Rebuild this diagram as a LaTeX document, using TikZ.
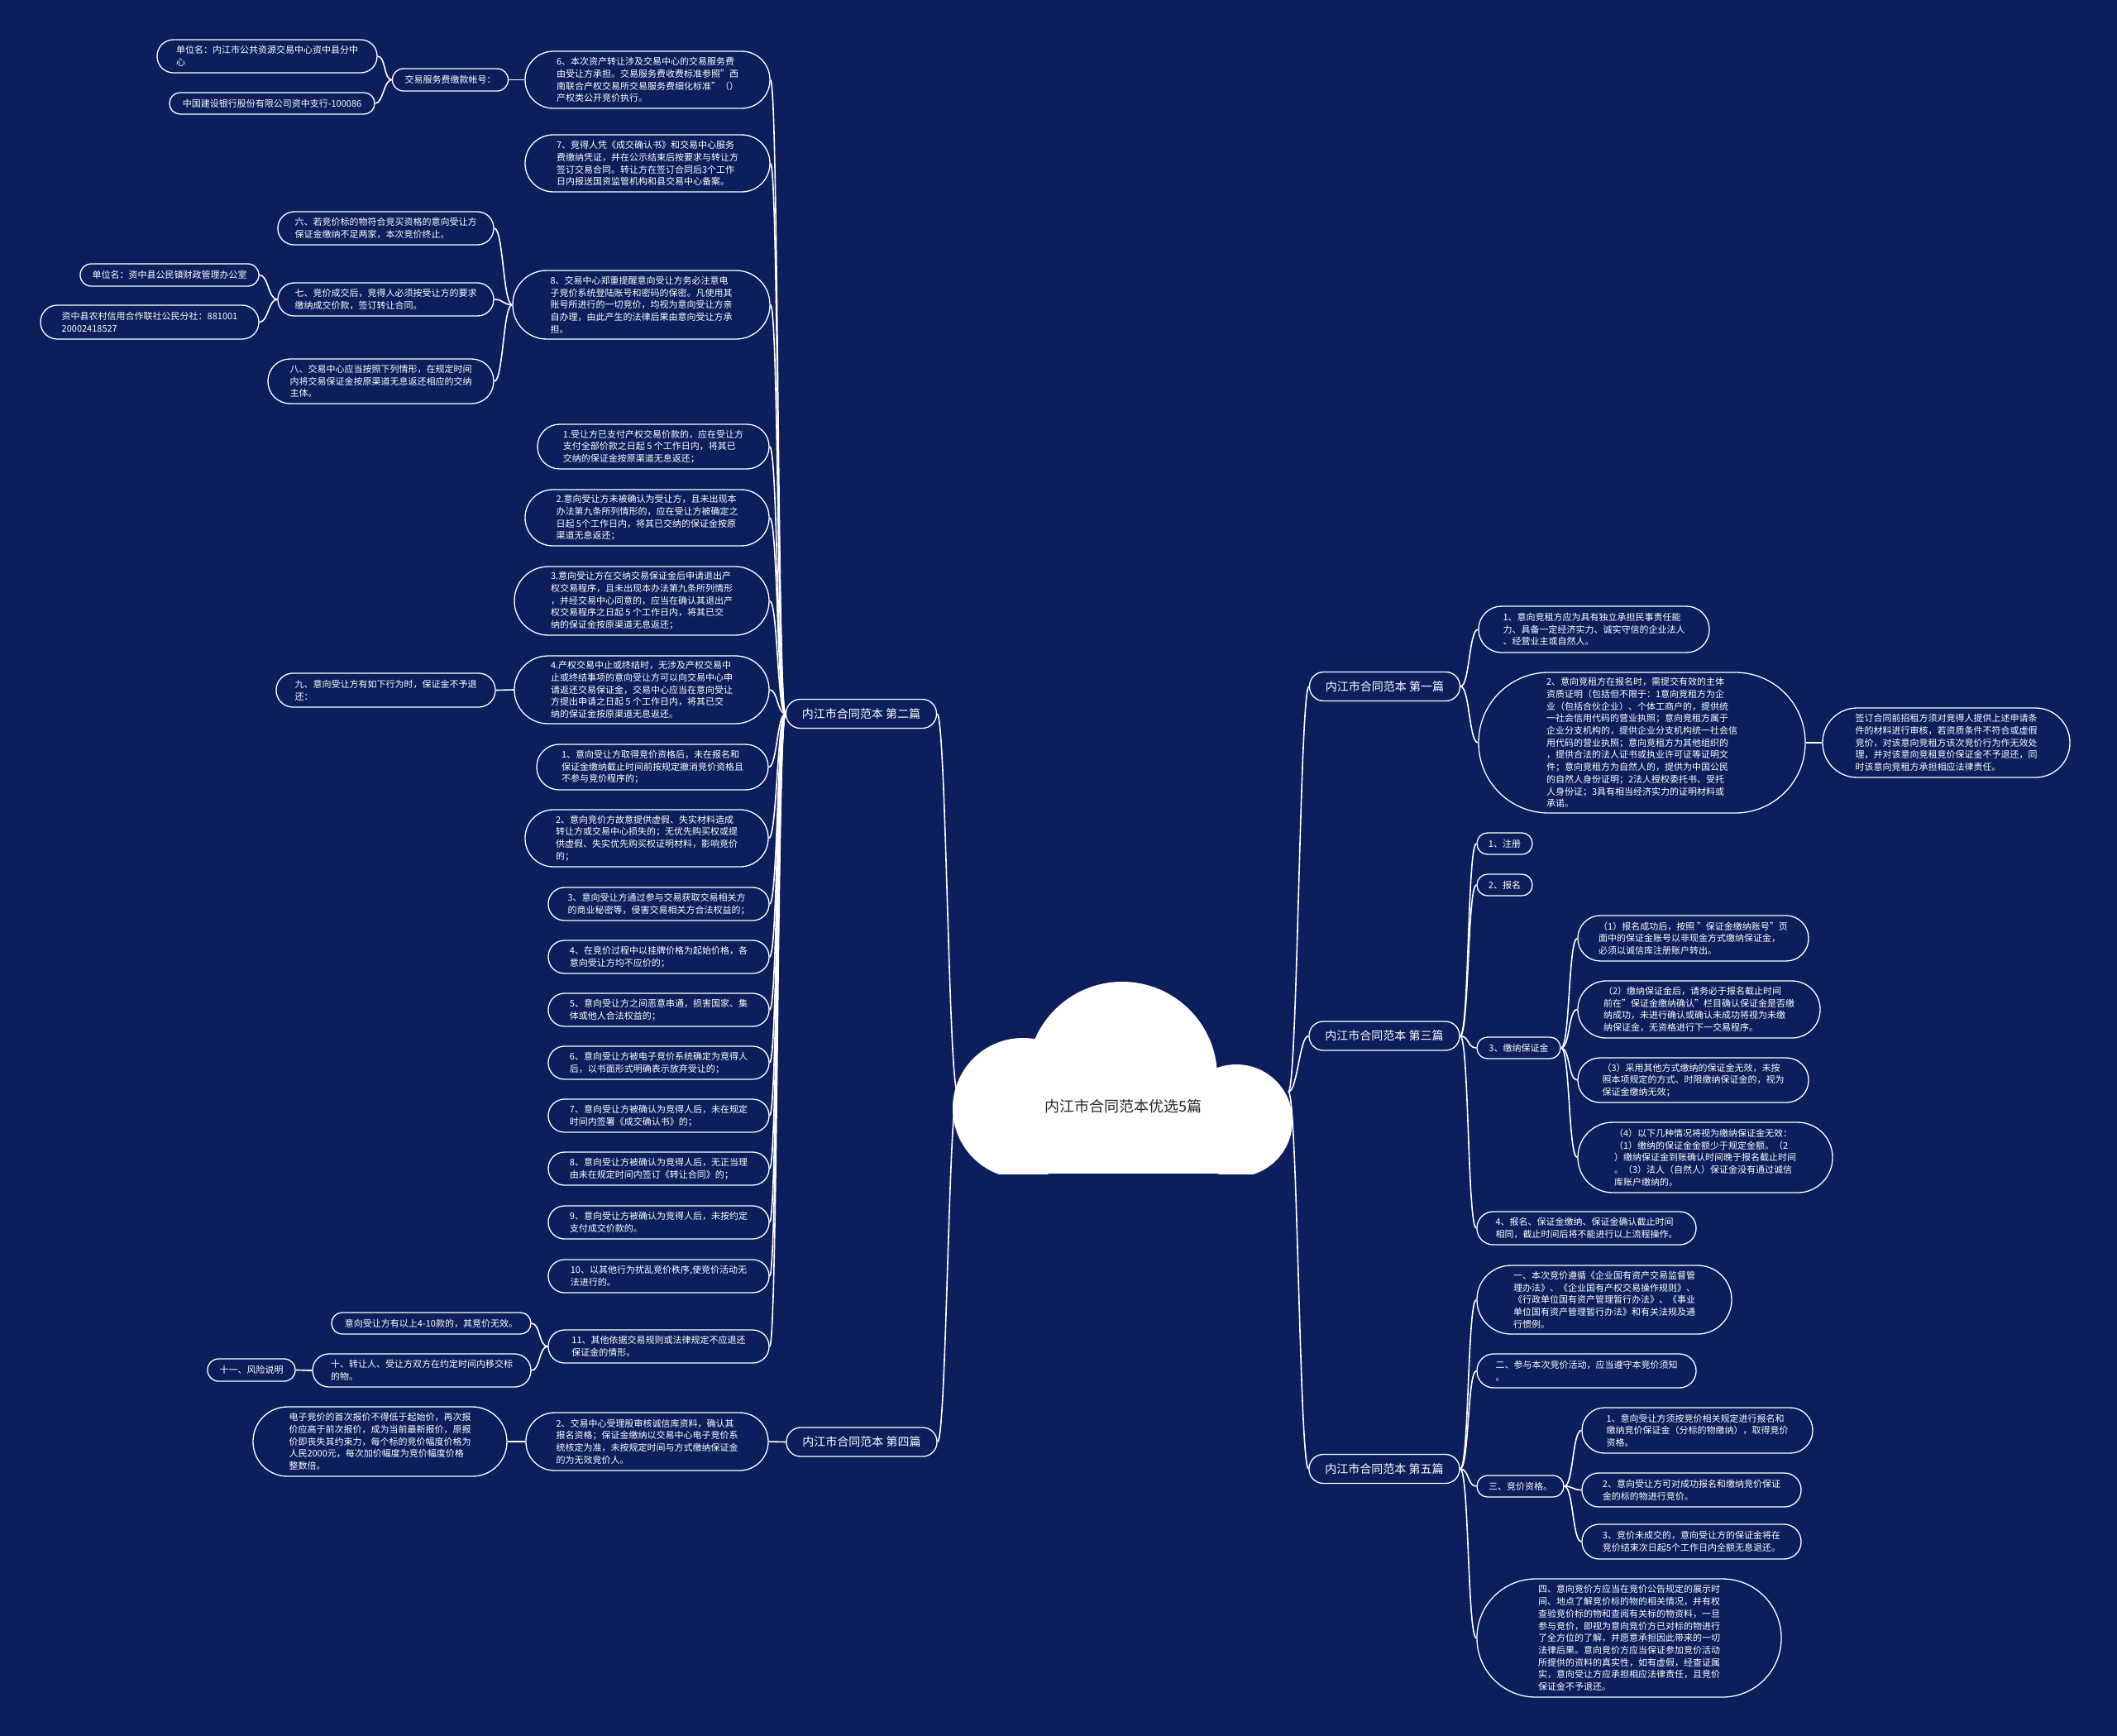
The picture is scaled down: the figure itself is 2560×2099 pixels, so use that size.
\documentclass[tikz,border=0pt]{standalone}
\usepackage{fontspec}
\setmainfont{Noto Sans CJK SC}
\definecolor{bgc}{RGB}{12,31,92}
\definecolor{cloudtxt}{RGB}{40,40,40}
\tikzset{
 mmbox/.style={draw=white, line width=1.3pt, fill=bgc, text=white, inner sep=0pt, align=left, rectangle, font=\fontsize{11pt}{14.7pt}\selectfont},
 brbox/.style={mmbox, align=center, font=\fontsize{14pt}{17pt}\selectfont},
 edge/.style={draw=white, line width=1.6pt},
}
\newcommand{\mmn}[7][mmbox]{%
 \pgfmathsetmacro{\mmrad}{#6/2-0.3}%
 \node[#1, minimum width=#5pt, minimum height=#6pt, rounded corners=\mmrad pt] (#2) at (#3,#4) {#7};}
\begin{document}
\begin{tikzpicture}[x=1pt,y=-1pt]
\fill[bgc] (0,0) rectangle (2560,2099);
% cloud
\begin{scope}
\clip (1100,1150) rectangle (1620,1419);
\fill[white] (1237,1340) circle (85pt);
\fill[white] (1357,1302) circle (115pt);
\fill[white] (1495,1355) circle (68pt);
\fill[white] (1237,1330) rectangle (1495,1419);
\end{scope}
\node[font=\fontsize{18pt}{22pt}\selectfont, text=cloudtxt, inner sep=0pt] (root) at (1358,1338) {内江市合同范本优选5篇};
\coordinate (cw) at (1158,1320);
\coordinate (ce) at (1558,1320);

% main branches
\mmn[brbox]{L2}{1041.5}{863}{182}{35}{内江市合同范本 第二篇}
\mmn[brbox]{L4}{1042}{1743.5}{182}{35}{内江市合同范本 第四篇}
\mmn[brbox]{R1}{1674.5}{830}{182}{35}{内江市合同范本 第一篇}
\mmn[brbox]{R3}{1674}{1252.5}{182}{35}{内江市合同范本 第三篇}
\mmn[brbox]{R5}{1674}{1776}{182}{35}{内江市合同范本 第五篇}

% left: children of L2
\mmn{n6}{783}{96.5}{296}{69}{6、本次资产转让涉及交易中心的交易服务费\\由受让方承担。交易服务费收费标准参照"西\\南联合产权交易所交易服务费细化标准"（）\\产权类公开竞价执行。}
\mmn{n7}{783}{197.5}{296}{69}{7、竞得人凭《成交确认书》和交易中心服务\\费缴纳凭证，并在公示结束后按要求与转让方\\签订交易合同。转让方在签订合同后3个工作\\日内报送国资监管机构和县交易中心备案。}
\mmn{n8}{775.5}{368.5}{311}{83}{8、交易中心郑重提醒意向受让方务必注意电\\子竞价系统登陆账号和密码的保密。凡使用其\\账号所进行的一切竞价，均视为意向受让方亲\\自办理，由此产生的法律后果由意向受让方承\\担。}
\mmn{a1}{790}{540}{280}{54}{1.受让方已支付产权交易价款的，应在受让方\\支付全部价款之日起 5 个工作日内，将其已\\交纳的保证金按原渠道无息返还；}
\mmn{a2}{782.5}{626}{295}{68}{2.意向受让方未被确认为受让方，且未出现本\\办法第九条所列情形的，应在受让方被确定之\\日起 5个工作日内，将其已交纳的保证金按原\\渠道无息返还；}
\mmn{a3}{776}{726.5}{308}{83}{3.意向受让方在交纳交易保证金后申请退出产\\权交易程序，且未出现本办法第九条所列情形\\，并经交易中心同意的，应当在确认其退出产\\权交易程序之日起 5 个工作日内，将其已交\\纳的保证金按原渠道无息返还；}
\mmn{a4}{776}{834}{308}{82}{4.产权交易中止或终结时，无涉及产权交易中\\止或终结事项的意向受让方可以向交易中心申\\请返还交易保证金，交易中心应当在意向受让\\方提出申请之日起 5 个工作日内，将其已交\\纳的保证金按原渠道无息返还。}
\mmn{b1}{789}{927.5}{280}{55}{1、意向受让方取得竞价资格后，未在报名和\\保证金缴纳截止时间前按规定撤消竞价资格且\\不参与竞价程序的；}
\mmn{b2}{782}{1013.5}{294}{69}{2、意向竞价方故意提供虚假、失实材料造成\\转让方或交易中心损失的；无优先购买权或提\\供虚假、失实优先购买权证明材料，影响竞价\\的；}
\mmn{b3}{796.5}{1093}{267}{40}{3、意向受让方通过参与交易获取交易相关方\\的商业秘密等，侵害交易相关方合法权益的；}
\mmn{b4}{796.5}{1157}{267}{40}{4、在竞价过程中以挂牌价格为起始价格，各\\意向受让方均不应价的；}
\mmn{b5}{796.5}{1221}{267}{40}{5、意向受让方之间恶意串通，损害国家、集\\体或他人合法权益的；}
\mmn{b6}{796.5}{1285}{267}{40}{6、意向受让方被电子竞价系统确定为竞得人\\后，以书面形式明确表示放弃受让的；}
\mmn{b7}{796.5}{1349}{267}{40}{7、意向受让方被确认为竞得人后，未在规定\\时间内签署《成交确认书》的；}
\mmn{b8}{796.5}{1413}{267}{40}{8、意向受让方被确认为竞得人后，无正当理\\由未在规定时间内签订《转让合同》的；}
\mmn{b9}{796.5}{1478}{267}{40}{9、意向受让方被确认为竞得人后，未按约定\\支付成交价款的。}
\mmn{b10}{796.5}{1543}{267}{40}{10、以其他行为扰乱竞价秩序,使竞价活动无\\法进行的。}
\mmn{b11}{796.5}{1628}{267}{40}{11、其他依据交易规则或法律规定不应退还\\保证金的情形。}

% left grandchildren
\mmn{fee}{544.5}{96.5}{140}{27}{交易服务费缴款帐号：}
\mmn{u1}{323}{68}{266}{40}{单位名：内江市公共资源交易中心资中县分中\\心}
\mmn{u2}{329}{125}{248}{26}{中国建设银行股份有限公司资中支行-100086}
\mmn{six}{466.5}{276}{261}{40}{六、若竞价标的物符合竞买资格的意向受让方\\保证金缴纳不足两家，本次竞价终止。}
\mmn{seven}{466.5}{362}{261}{40}{七、竞价成交后，竞得人必须按受让方的要求\\缴纳成交价款，签订转让合同。}
\mmn{eight}{460.5}{461}{273}{54}{八、交易中心应当按照下列情形，在规定时间\\内将交易保证金按原渠道无息返还相应的交纳\\主体。}
\mmn{u3}{205}{332.5}{216}{27}{单位名：资中县公民镇财政管理办公室}
\mmn{u4}{181}{389.5}{264}{41}{资中县农村信用合作联社公民分社：881001\\20002418527}
\mmn{nine}{466.5}{834.5}{265}{41}{九、意向受让方有如下行为时，保证金不予退\\还：}
\mmn{inv}{521.5}{1600}{241}{26}{意向受让方有以上4-10款的，其竞价无效。}
\mmn{ten}{510}{1657}{264}{40}{十、转让人、受让方双方在约定时间内移交标\\的物。}
\mmn{eleven}{304}{1656.5}{106}{27}{十一、风险说明}
\mmn{c}{782.5}{1743}{293}{70}{2、交易中心受理股审核诚信库资料，确认其\\报名资格；保证金缴纳以交易中心电子竞价系\\统核定为准，未按规定时间与方式缴纳保证金\\的为无效竞价人。}
\mmn{e}{459.5}{1743}{307}{84}{电子竞价的首次报价不得低于起始价，再次报\\价应高于前次报价，成为当前最新报价，原报\\价即丧失其约束力，每个标的竞价幅度价格为\\人民2000元，每次加价幅度为竞价幅度价格\\整数倍。}

% right: R1
\mmn{r11}{1927.5}{761}{279}{56}{1、意向竞租方应为具有独立承担民事责任能\\力、具备一定经济实力、诚实守信的企业法人\\、经营业主或自然人。}
\mmn{r12}{1985.5}{898}{395}{170}{2、意向竞租方在报名时，需提交有效的主体\\资质证明（包括但不限于：1意向竞租方为企\\业（包括合伙企业）、个体工商户的，提供统\\一社会信用代码的营业执照；意向竞租方属于\\企业分支机构的，提供企业分支机构统一社会信\\用代码的营业执照；意向竞租方为其他组织的\\，提供合法的法人证书或执业许可证等证明文\\件；意向竞租方为自然人的，提供为中国公民\\的自然人身份证明；2法人授权委托书、受托\\人身份证；3具有相当经济实力的证明材料或\\承诺。}
\mmn{r13}{2353.5}{898}{299}{84}{签订合同前招租方须对竞得人提供上述申请条\\件的材料进行审核，若资质条件不符合或虚假\\竞价，对该意向竞租方该次竞价行为作无效处\\理，并对该意向竞租竞价保证金不予退还，同\\时该意向竞租方承担相应法律责任。}

% right: R3
\mmn{r31}{1819.5}{1020}{67}{26}{1、注册}
\mmn{r32}{1819.5}{1070}{67}{26}{2、报名}
\mmn{r33}{1836.5}{1267}{101}{26}{3、缴纳保证金}
\mmn{r34}{1918.5}{1485}{265}{40}{4、报名、保证金缴纳、保证金确认截止时间\\相同，截止时间后将不能进行以上流程操作。}
\mmn{p1}{2047.5}{1134.5}{279}{55}{（1）报名成功后，按照 "保证金缴纳账号"页\\面中的保证金账号以非现金方式缴纳保证金，\\必须以诚信库注册账户转出。}
\mmn{p2}{2054.5}{1220.5}{293}{69}{（2）缴纳保证金后，请务必于报名截止时间\\前在"保证金缴纳确认"栏目确认保证金是否缴\\纳成功，未进行确认或确认未成功将视为未缴\\纳保证金，无资格进行下一交易程序。}
\mmn{p3}{2047.5}{1306}{279}{54}{（3）采用其他方式缴纳的保证金无效，未按\\照本项规定的方式、时限缴纳保证金的，视为\\保证金缴纳无效；}
\mmn{p4}{2062}{1399.5}{308}{85}{（4）以下几种情况将视为缴纳保证金无效：\\（1）缴纳的保证金金额少于规定金额。（2\\）缴纳保证金到账确认时间晚于报名截止时间\\。（3）法人（自然人）保证金没有通过诚信\\库账户缴纳的。}

% right: R5
\mmn{r51}{1940}{1571.5}{308}{83}{一、本次竞价遵循《企业国有资产交易监督管\\理办法》、《企业国有产权交易操作规则》、\\《行政单位国有资产管理暂行办法》、《事业\\单位国有资产管理暂行办法》和有关法规及通\\行惯例。}
\mmn{r52}{1918.5}{1657.5}{265}{41}{二、参与本次竞价活动，应当遵守本竞价须知\\。}
\mmn{r53}{1838.5}{1797}{105}{26}{三、竞价资格。}
\mmn{r54}{1970}{1980.5}{368}{143}{四、意向竞价方应当在竞价公告规定的展示时\\间、地点了解竞价标的物的相关情况，并有权\\查验竞价标的物和查阅有关标的物资料，一旦\\参与竞价，即视为意向竞价方已对标的物进行\\了全方位的了解，并愿意承担因此带来的一切\\法律后果。意向竞价方应当保证参加竞价活动\\所提供的资料的真实性，如有虚假，经查证属\\实，意向受让方应承担相应法律责任，且竞价\\保证金不予退还。}
\mmn{q1}{2052.5}{1729.5}{279}{55}{1、意向受让方须按竞价相关规定进行报名和\\缴纳竞价保证金（分标的物缴纳），取得竞价\\资格。}
\mmn{q2}{2045.5}{1801.5}{265}{41}{2、意向受让方可对成功报名和缴纳竞价保证\\金的标的物进行竞价。}
\mmn{q3}{2045.5}{1864}{265}{42}{3、竞价未成交的，意向受让方的保证金将在\\竞价结束次日起5个工作日内全额无息退还。}

% connectors
\foreach \kid in {L2,L4} \draw[edge] (cw) .. controls +(-11,0) and +(11,0) .. (\kid.east);
\foreach \kid in {R1,R3,R5} \draw[edge] (ce) .. controls +(11,0) and +(-11,0) .. (\kid.west);
\foreach \kid in {n6,n7,n8,a1,a2,a3,a4,b1,b2,b3,b4,b5,b6,b7,b8,b9,b10,b11}
  \draw[edge] (L2.west) .. controls +(-10,0) and +(10,0) .. (\kid.east);
\draw[edge] (n6.west) .. controls +(-11,0) and +(11,0) .. (fee.east);
\foreach \kid in {u1,u2} \draw[edge] (fee.west) .. controls +(-10,0) and +(10,0) .. (\kid.east);
\foreach \kid in {six,seven,eight} \draw[edge] (n8.west) .. controls +(-11,0) and +(11,0) .. (\kid.east);
\foreach \kid in {u3,u4} \draw[edge] (seven.west) .. controls +(-11,0) and +(11,0) .. (\kid.east);
\draw[edge] (a4.west) .. controls +(-11,0) and +(11,0) .. (nine.east);
\foreach \kid in {inv,ten} \draw[edge] (b11.west) .. controls +(-11,0) and +(11,0) .. (\kid.east);
\draw[edge] (ten.west) .. controls +(-11,0) and +(11,0) .. (eleven.east);
\draw[edge] (L4.west) .. controls +(-11,0) and +(11,0) .. (c.east);
\draw[edge] (c.west) .. controls +(-11,0) and +(11,0) .. (e.east);
\foreach \kid in {r11,r12} \draw[edge] (R1.east) .. controls +(11,0) and +(-11,0) .. (\kid.west);
\draw[edge] (r12.east) .. controls +(10,0) and +(-10,0) .. (r13.west);
\foreach \kid in {r31,r32,r33,r34} \draw[edge] (R3.east) .. controls +(11,0) and +(-11,0) .. (\kid.west);
\foreach \kid in {p1,p2,p3,p4} \draw[edge] (r33.east) .. controls +(11,0) and +(-11,0) .. (\kid.west);
\foreach \kid in {r51,r52,r53,r54} \draw[edge] (R5.east) .. controls +(11,0) and +(-11,0) .. (\kid.west);
\foreach \kid in {q1,q2,q3} \draw[edge] (r53.east) .. controls +(11,0) and +(-11,0) .. (\kid.west);
\end{tikzpicture}
\end{document}
